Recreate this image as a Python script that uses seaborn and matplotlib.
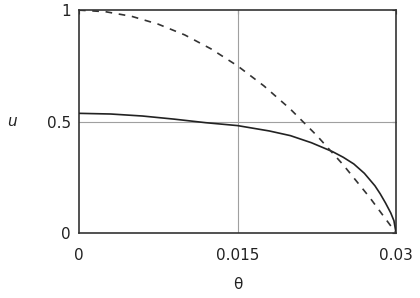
import matplotlib
matplotlib.use("Agg")
import matplotlib.pyplot as plt
import numpy as np
import pandas as pd
import seaborn as sns

# values
theta_solid = [0.0, 0.003, 0.006, 0.009, 0.012, 0.015, 0.018, 0.020, 0.022,
               0.024, 0.025, 0.026, 0.027, 0.028, 0.0285, 0.029, 0.0295,
               0.0298, 0.030]
u_solid = [0.537, 0.534, 0.525, 0.511, 0.495, 0.482, 0.458, 0.437, 0.405,
           0.365, 0.340, 0.310, 0.268, 0.212, 0.176, 0.135, 0.090, 0.055, 0.0]

theta_dashed = [0.0, 0.0025, 0.005, 0.0075, 0.010, 0.0125, 0.015, 0.0175,
                0.020, 0.0225, 0.025, 0.0275, 0.030]
u_dashed = [1.0, 0.993, 0.972, 0.937, 0.889, 0.826, 0.750, 0.660,
            0.556, 0.4375, 0.306, 0.160, 0.0]

x_ticks = [0, 0.015, 0.03]
x_ticklabels = ["0", "0.015", "0.03"]
y_ticks = [0, 0.5, 1]
y_ticklabels = ["0", "0.5", "1"]

sns.set_style("white")
plt.rcParams["font.family"] = ["DejaVu Sans"]

fig = plt.figure(figsize=(4.2, 2.98), dpi=100)
ax = fig.add_axes([0.188, 0.218, 0.755, 0.748])

# single grid lines through the middle ticks
ax.axvline(0.015, color="#a0a0a0", lw=0.8, zorder=1)
ax.axhline(0.5, color="#a0a0a0", lw=0.8, zorder=1)

solid = pd.DataFrame({"theta": theta_solid, "u": u_solid})
dashed = pd.DataFrame({"theta": theta_dashed, "u": u_dashed})
sns.lineplot(data=solid, x="theta", y="u", ax=ax, color="#222222", lw=1.2,
             sort=False, estimator=None, zorder=3)
sns.lineplot(data=dashed, x="theta", y="u", ax=ax, color="#333333", lw=1.2,
             sort=False, estimator=None, zorder=3)
ax.lines[-1].set_dashes([4, 4])

ax.set_xlim(0, 0.03)
ax.set_ylim(0, 1)
ax.set_xticks(x_ticks)
ax.set_xticklabels(x_ticklabels)
ax.set_yticks(y_ticks)
ax.set_yticklabels(y_ticklabels)
ax.tick_params(axis="both", direction="in", length=3, width=0.8,
               colors="#333333", labelsize=11, top=True, right=True)
ax.tick_params(axis="x", pad=11, labelcolor="#222222")
ax.tick_params(axis="y", pad=6, labelcolor="#222222")

for sp in ax.spines.values():
    sp.set_visible(True)
    sp.set_color("#333333")
    sp.set_linewidth(1.2)

ax.set_xlabel("θ", fontsize=11, color="#222222", labelpad=10)
ax.set_ylabel("u", fontsize=11, style="italic", rotation=0, color="#222222")
ax.yaxis.set_label_coords(-0.211, 0.5)
ax.yaxis.label.set_verticalalignment("center")

fig.savefig("out.png", dpi=100)
